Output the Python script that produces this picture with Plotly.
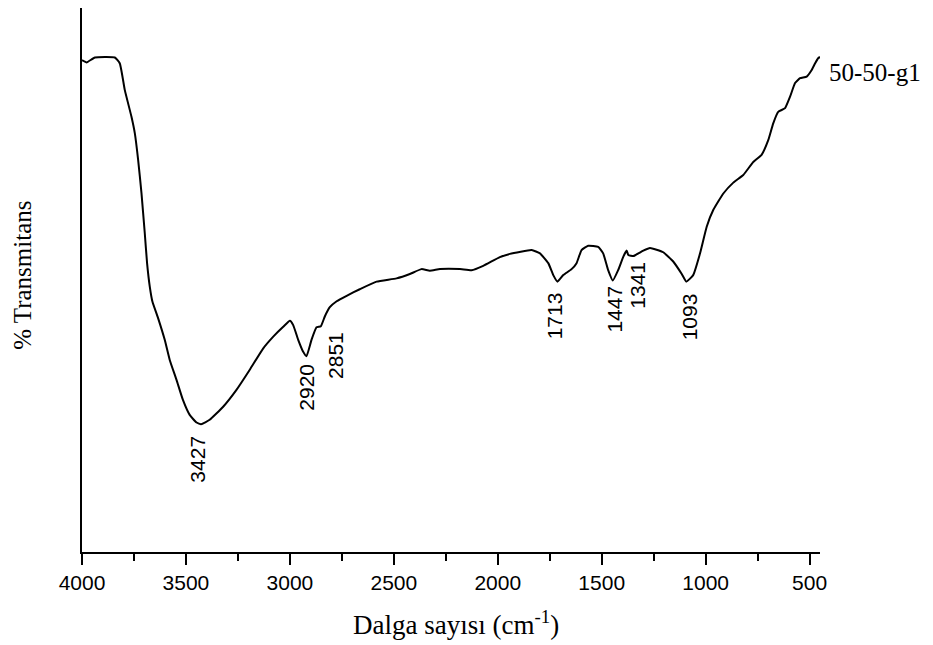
import plotly.graph_objects as go

# Spectrum data (wavenumber cm^-1, % transmittance, arbitrary scale)
wavenumber = [4000, 3978, 3938, 3842, 3818, 3794, 3762, 3746, 3730, 3714, 3698, 3687, 3674, 3661,
              3634, 3602, 3578, 3545, 3514, 3482, 3449, 3427, 3386, 3321, 3257, 3193, 3129, 3080,
              3032, 3000, 2984, 2960, 2936, 2920, 2896, 2872, 2851, 2832, 2808, 2775, 2727, 2664,
              2583, 2487, 2423, 2367, 2327, 2278, 2182, 2126, 2070, 1990, 1942, 1837, 1797, 1757,
              1733, 1713, 1685, 1645, 1621, 1597, 1565, 1517, 1493, 1469, 1447, 1421, 1396, 1380,
              1372, 1348, 1341, 1300, 1268, 1204, 1156, 1115, 1093, 1060, 1027, 995, 963, 915, 867,
              819, 771, 731, 699, 675, 651, 618, 594, 570, 546, 514, 490, 474, 458, 450]
transmittance = [90.4, 90.0, 90.9, 90.9, 89.8, 84.9, 80.0, 77.0, 72.1, 66.0, 58.6, 53.1, 48.8, 46.0,
                 43.0, 39.0, 35.3, 31.6, 27.9, 25.2, 23.8, 23.5, 24.3, 26.7, 29.8, 33.5, 37.4, 39.6,
                 41.4, 42.5, 41.7, 39.0, 36.8, 36.0, 39.0, 41.3, 41.5, 43.3, 45.0, 46.1, 47.1, 48.3,
                 49.7, 50.3, 51.1, 52.0, 51.7, 52.0, 52.0, 51.8, 52.6, 54.2, 54.8, 55.5, 54.9, 53.1,
                 50.9, 49.7, 50.9, 52.0, 53.1, 55.5, 56.3, 56.1, 54.9, 51.8, 49.9, 51.8, 54.3, 55.4,
                 54.6, 54.4, 54.5, 55.4, 55.9, 55.1, 53.4, 51.1, 49.7, 50.9, 54.9, 59.8, 62.9, 65.9, 67.9,
                 69.3, 71.7, 73.0, 75.7, 78.8, 80.9, 81.6, 83.7, 86.2, 87.1, 87.4, 88.6, 89.8, 90.8, 91.0]

peak_labels = ["3427", "2920", "2851", "1713", "1447", "1341", "1093"]
peak_wn = [3427, 2920, 2851, 1713, 1447, 1341, 1093]

tick_vals = [4000, 3500, 3000, 2500, 2000, 1500, 1000, 500]
tick_text = ["4000", "3500", "3000", "2500", "2000", "1500", "1000", "500"]

series_name = "50-50-g1"
x_title = "Dalga sayısı (cm<sup>-1</sup>)"
y_title = "% Transmitans"

# label placement (layout only)
label_y = [17.0, 30.3, 36.2, 43.4, 44.7, 49.1, 43.2]
label_xshift = [-4, 0, 14, -3, 2, 3, 4]

fig = go.Figure()
fig.add_trace(go.Scatter(
    x=wavenumber, y=transmittance, mode="lines",
    line=dict(color="black", width=2, shape="spline", smoothing=0.4),
    showlegend=False, hoverinfo="skip"))

for lab, wn, ly, xs in zip(peak_labels, peak_wn, label_y, label_xshift):
    fig.add_annotation(x=wn, y=ly, xref="x", yref="y", text=lab, textangle=-90,
                       showarrow=False, xanchor="center", yanchor="middle", xshift=xs,
                       font=dict(family="Liberation Sans, Arial", size=21, color="black"))

fig.add_annotation(x=1.010, y=0.882, xref="paper", yref="paper", text=series_name,
                   showarrow=False, xanchor="left", yanchor="middle",
                   font=dict(family="Liberation Serif, Times New Roman", size=25, color="black"))

fig.add_annotation(x=0.507, y=-0.131, xref="paper", yref="paper", text=x_title,
                   showarrow=False, xanchor="center", yanchor="middle",
                   font=dict(family="Liberation Serif, Times New Roman", size=27, color="black"))

fig.add_annotation(x=-0.081, y=0.508, xref="paper", yref="paper", text=y_title, textangle=-90,
                   showarrow=False, xanchor="center", yanchor="middle",
                   font=dict(family="Liberation Serif, Times New Roman", size=25, color="black"))

fig.update_layout(
    width=933, height=645,
    margin=dict(l=82, r=113, t=8, b=93),
    paper_bgcolor="white", plot_bgcolor="white",
    xaxis=dict(range=[4000, 450], tickmode="array", tickvals=tick_vals, ticktext=tick_text,
               ticks="outside", ticklen=11, tickwidth=1.5, tickcolor="black",
               minor=dict(dtick=250, tick0=0, ticks="outside", ticklen=7, tickwidth=1.5, tickcolor="black"),
               showline=True, linecolor="black", linewidth=1.5, showgrid=False, zeroline=False,
               tickfont=dict(family="Liberation Sans, Arial", size=21, color="black")),
    yaxis=dict(range=[0, 100], showline=True, linecolor="black", linewidth=1.5,
               showticklabels=False, ticks="", showgrid=False, zeroline=False),
)

fig.write_html("out.html")
